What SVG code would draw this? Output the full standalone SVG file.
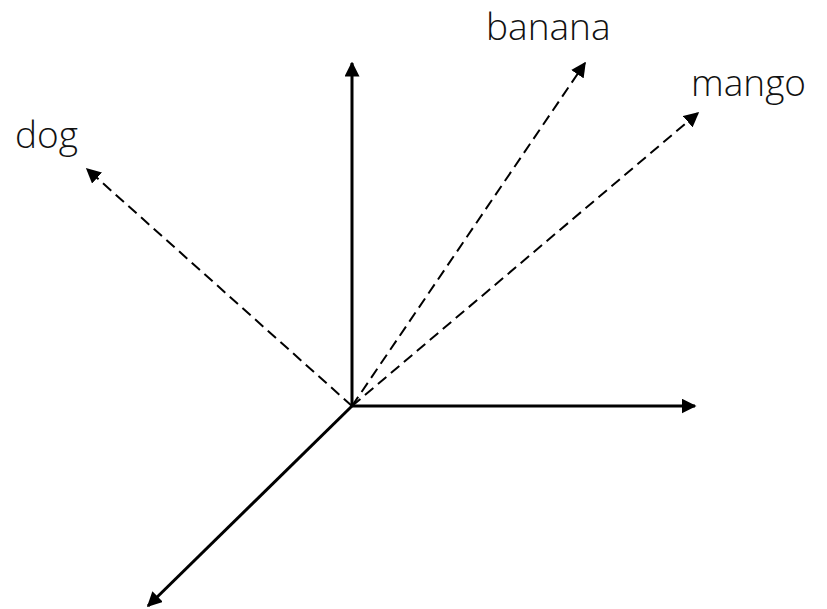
<svg xmlns="http://www.w3.org/2000/svg" width="827" height="609" viewBox="0 0 827 609">
<style>
.axis{stroke:#000;stroke-width:3;fill:none}
.vec{stroke:#000;stroke-width:2;stroke-dasharray:11 6;fill:none}
.lbl{font-family:"Open Sans","Lato","Liberation Sans",sans-serif;font-weight:300;font-size:37px;fill:#111}
</style>
<defs>
<marker id="ah" viewBox="0 0 10 10" refX="9" refY="5" markerWidth="5" markerHeight="5" orient="auto" markerUnits="strokeWidth"><path d="M0,0 L10,5 L0,10 z" fill="#000"/></marker>
<marker id="ahd" viewBox="0 0 10 10" refX="9" refY="5" markerWidth="7.5" markerHeight="7.5" orient="auto" markerUnits="strokeWidth"><path d="M0,0 L10,5 L0,10 z" fill="#000"/></marker>
</defs>
<g id="connectors">
<line class="axis" x1="352" y1="407" x2="352" y2="63" marker-end="url(#ah)"/>
<line class="axis" x1="351" y1="406" x2="695" y2="406" marker-end="url(#ah)"/>
<line class="axis" x1="352" y1="406" x2="148" y2="606" marker-end="url(#ah)"/>
<line class="vec" x1="352" y1="406" x2="87" y2="169" marker-end="url(#ahd)"/>
<line class="vec" x1="352" y1="406" x2="585" y2="63" marker-end="url(#ahd)"/>
<line class="vec" x1="352" y1="406" x2="698" y2="113" marker-end="url(#ahd)"/>
</g>
<g id="dog"><text class="lbl" x="15" y="148">dog</text></g>
<g id="banana"><text class="lbl" x="486" y="40">banana</text></g>
<g id="mango"><text class="lbl" x="691" y="96">mango</text></g>
</svg>
